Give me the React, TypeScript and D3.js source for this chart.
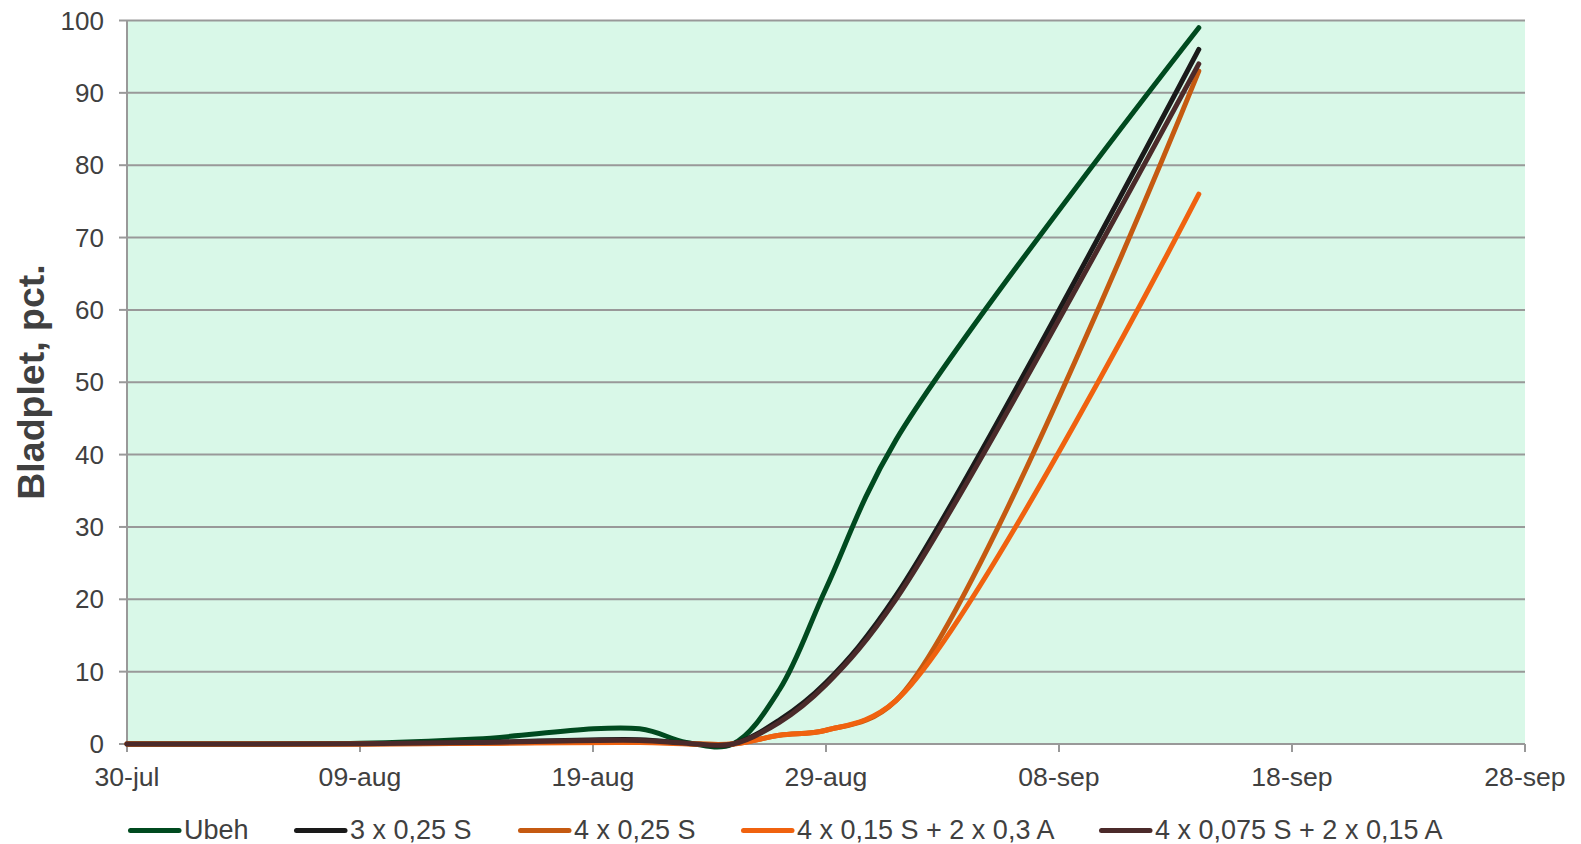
import React from "react";
import * as d3 from "d3";

const dates = ["2011-07-30", "2011-08-09", "2011-08-14", "2011-08-21", "2011-08-23", "2011-08-25", "2011-08-27", "2011-08-29", "2011-09-01", "2011-09-14"];
const ubeh = [0, 0.1, 0.7, 2.1, 0.2, 0, 7.5, 21.5, 42, 99];
const s3x025 = [0, 0.05, 0.2, 0.6, 0.1, 0, 3.3, 8.5, 20.5, 96];
const s4x025 = [0, 0, 0.1, 0.3, 0.05, 0, 1.2, 1.9, 6, 93];
const s4x015 = [0, 0, 0.1, 0.2, 0.05, 0, 1.2, 1.9, 6, 76];
const s4x0075 = [0, 0.05, 0.2, 0.5, 0.1, 0, 3.0, 8.2, 20, 94];

const seriesNames = ["Ubeh", "3 x 0,25 S", "4 x 0,25 S", "4 x 0,15 S + 2 x 0,3 A", "4 x 0,075 S + 2 x 0,15 A"];
const seriesValues = [ubeh, s3x025, s4x025, s4x015, s4x0075];
const seriesColors = ["#004a1f", "#1a1a1a", "#c55a11", "#f0620f", "#4b2a2a"];

const xTickDates = ["2011-07-30", "2011-08-09", "2011-08-19", "2011-08-29", "2011-09-08", "2011-09-18", "2011-09-28"];
const xTickLabels = ["30-jul", "09-aug", "19-aug", "29-aug", "08-sep", "18-sep", "28-sep"];
const yTicks = [0, 10, 20, 30, 40, 50, 60, 70, 80, 90, 100];

const legendX = [128, 294, 518, 741, 1099];

const parse = d3.utcParse("%Y-%m-%d");

export default function App() {
  const left = 127, right = 1525, top = 20.5, bottom = 744;
  const x = d3.scaleUtc().domain([parse(xTickDates[0])!, parse(xTickDates[xTickDates.length - 1])!]).range([left, right]);
  const y = d3.scaleLinear().domain([0, 100]).range([bottom, top]);
  const line = d3
    .line<[Date, number]>()
    .x((d) => x(d[0]))
    .y((d) => y(d[1]))
    .curve(d3.curveCatmullRom.alpha(0.5));
  const font = "'Liberation Sans', Arial, sans-serif";
  const textColor = "#404040";
  const grid = "#999999";
  return (
    <svg width={1581} height={844} style={{ position: "absolute", left: 0, top: 0 }} fontFamily={font}>
      <rect x={left} y={top} width={right - left} height={bottom - top} fill="#d9f8e8" />
      {yTicks.map((t) => (
        <g key={t}>
          {t > 0 && <line x1={left} x2={right} y1={y(t)} y2={y(t)} stroke={grid} strokeWidth={2} />}
          <line x1={left - 8} x2={left} y1={y(t)} y2={y(t)} stroke={grid} strokeWidth={2} />
          <text x={104} y={y(t) + 9} textAnchor="end" fontSize={26} fill={textColor}>
            {t}
          </text>
        </g>
      ))}
      <line x1={left} x2={left} y1={top} y2={bottom + 8} stroke={grid} strokeWidth={2} />
      <line x1={left} x2={right} y1={bottom} y2={bottom} stroke={grid} strokeWidth={2} />
      {xTickDates.map((d, i) => {
        const xx = x(parse(d)!);
        return (
          <g key={d}>
            <line x1={xx} x2={xx} y1={bottom} y2={bottom + 8} stroke={grid} strokeWidth={2} />
            <text x={xx} y={786} textAnchor="middle" fontSize={26.6} fill={textColor}>
              {xTickLabels[i]}
            </text>
          </g>
        );
      })}
      {seriesValues.map((vals, i) => {
        const pts: [Date, number][] = vals.map((v, j) => [parse(dates[j])!, v]);
        return (
          <path key={i} d={line(pts) || ""} fill="none" stroke={seriesColors[i]} strokeWidth={5} strokeLinecap="round" strokeLinejoin="round" />
        );
      })}
      <text
        transform={`translate(44,382) rotate(-90)`}
        textAnchor="middle"
        fontSize={37.5}
        fontWeight="bold"
        fill={textColor}
      >
        Bladplet, pct.
      </text>
      {seriesNames.map((n, i) => (
        <g key={n}>
          <line x1={legendX[i] + 2.5} x2={legendX[i] + 51} y1={830.5} y2={830.5} stroke={seriesColors[i]} strokeWidth={5} strokeLinecap="round" />
          <text x={legendX[i] + 56} y={838.5} fontSize={27} fill={textColor}>
            {n}
          </text>
        </g>
      ))}
    </svg>
  );
}
